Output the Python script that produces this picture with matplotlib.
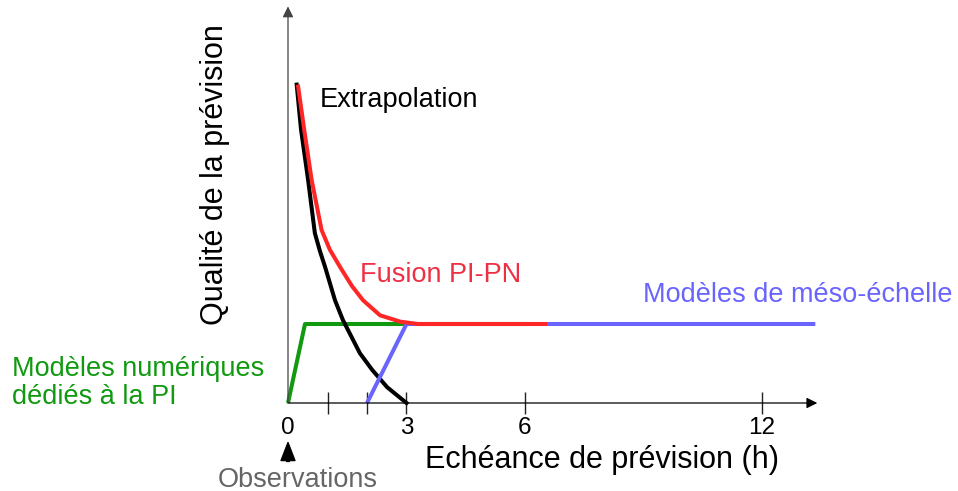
import matplotlib.pyplot as plt

plt.rcParams['font.family'] = ['Liberation Sans', 'DejaVu Sans']

# =========================
# DATA (hours vs. relative quality)
# =========================
extrap_x = [0.22, 0.33, 0.51, 0.68, 0.81, 0.94, 1.19, 1.39, 1.82, 2.13, 2.51, 3.0]
extrap_y = [4.03, 3.46, 2.82, 2.15, 1.92, 1.72, 1.30, 1.05, 0.63, 0.42, 0.20, 0.0]

fusion_x = [0.25, 0.41, 0.60, 0.85, 1.06, 1.32, 1.62, 1.90, 2.33, 2.84, 3.29, 6.56]
fusion_y = [4.03, 3.46, 2.82, 2.19, 1.94, 1.72, 1.48, 1.30, 1.11, 1.03, 1.0, 1.0]

pi_x = [0.0, 0.43, 6.05]
pi_y = [0.0, 1.0, 1.0]

meso_x = [2.0, 3.0, 13.35]
meso_y = [0.0, 1.0, 1.0]

tick_pos = [0, 1, 2, 3, 6, 12]
tick_labels = ["0", "", "", "3", "6", "12"]

# =========================
# COLOURS
# =========================
RED = "#ff2626"
RED_TXT = "#ee3045"
GREEN = "#119a11"
BLUE = "#6a64ff"

# =========================
# FIGURE
# =========================
fig = plt.figure(figsize=(9.58, 4.91), dpi=100)
ax = fig.add_axes([288 / 958, 88 / 491, 529.3 / 958, 395 / 491])
ax.set_xlim(0, 13.4)
ax.set_ylim(0, 5.0)
for s in ax.spines.values():
    s.set_visible(False)
ax.set_yticks([])

lw = 2.9
ax.plot(pi_x, pi_y, color=GREEN, lw=lw, clip_on=False, solid_capstyle="butt")
ax.plot(extrap_x, extrap_y, color="black", lw=lw, clip_on=False,
        solid_joinstyle="round")
ax.plot(meso_x, meso_y, color=BLUE, lw=lw, clip_on=False, solid_capstyle="butt")
ax.plot(fusion_x, fusion_y, color=RED, lw=lw, clip_on=False,
        solid_capstyle="butt", solid_joinstyle="round")

# axes with arrows
ax.annotate("", xy=(13.4, 0), xytext=(0, 0), annotation_clip=False,
            arrowprops=dict(arrowstyle="-|>", mutation_scale=16, lw=0.9,
                            color="black", shrinkA=0, shrinkB=0))
ax.annotate("", xy=(0, 5.02), xytext=(0, 0), annotation_clip=False,
            arrowprops=dict(arrowstyle="-|>", mutation_scale=16, lw=0.9,
                            color="#444444", shrinkA=0, shrinkB=0))

ax.set_xticks(tick_pos)
ax.set_xticklabels(tick_labels)
ax.tick_params(axis="x", direction="inout", length=16, width=1,
               pad=2, labelsize=17.5, color="#222222")
ax.xaxis.get_major_ticks()[0].tick1line.set_visible(False)

# labels
ax.text(7.95, -0.72, "Echéance de prévision (h)", fontsize=22,
        ha="center", va="center")
ax.text(-1.85, 2.89, "Qualité de la prévision", fontsize=22,
        ha="center", va="center", rotation=90)

ax.text(0.81, 3.84, "Extrapolation", fontsize=19.5, color="black",
        ha="left", va="center")
ax.text(1.82, 1.62, "Fusion PI-PN", fontsize=19.5, color=RED_TXT,
        ha="left", va="center")
ax.text(8.99, 1.37, "Modèles de méso-échelle", fontsize=19.5, color=BLUE,
        ha="left", va="center")
ax.text(-6.99, 0.25, "Modèles numériques\ndédiés à la PI", fontsize=19.5,
        color=GREEN, ha="left", va="center", linespacing=1.1)

# observations arrow
ax.annotate("", xy=(0, -0.50), xytext=(0, -0.74), annotation_clip=False,
            arrowprops=dict(width=2, headwidth=10, headlength=13,
                            color="black", shrink=0))
ax.text(0.25, -0.97, "Observations", fontsize=19.5, color="#666666",
        ha="center", va="center")

plt.savefig("out.png", dpi=100)
plt.close()
